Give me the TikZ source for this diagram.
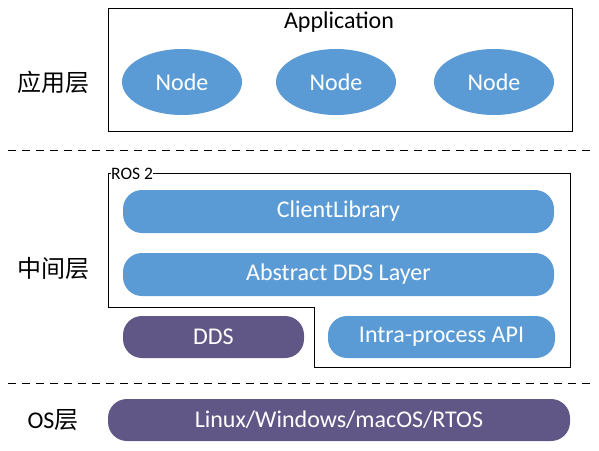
\documentclass[tikz,border=0pt]{standalone}
\usepackage{fontspec}
\setmainfont{Carlito}
\newfontfamily\cjk{Noto Sans CJK SC}
\usetikzlibrary{shapes.geometric}
\definecolor{lblue}{RGB}{91,155,213}
\definecolor{lpurple}{RGB}{97,87,135}
\tikzset{
  pill/.style={rounded corners=19pt, fill=#1, draw=none},
  wt/.style={text=white, font=\fontsize{24}{28}\selectfont},
  ell/.style={ellipse, fill=lblue, draw=none, text=white, minimum width=120pt, minimum height=66pt, font=\fontsize{24}{28}\selectfont},
  layer/.style={font=\fontsize{24}{28}\selectfont},
  sep/.style={dashed, dash pattern=on 8pt off 6pt, line width=0.9pt},
}
\begin{document}
\begin{tikzpicture}[x=1pt,y=-1pt]
\useasboundingbox (0,0) rectangle (599,450);
% application box
\draw[line width=0.9pt] (108,8) rectangle (572,131);
\node[font=\fontsize{24}{28}\selectfont] (app) at (339,22) {Application};
\node[ell] (n1) at (182,82) {Node};
\node[ell] (n2) at (336,82) {Node};
\node[ell] (n3) at (494,82) {Node};
% separators
\coordinate (s1a) at (8,150); \coordinate (s1b) at (592,150);
\draw[sep] (s1a) -- (s1b);
\coordinate (s2a) at (8,383); \coordinate (s2b) at (592,383);
\draw[sep] (s2a) -- (s2b);
% layer labels
\node[layer] (l1) at (53,82) {\cjk 应用层};
\node[layer] (l2) at (53,268) {\cjk 中间层};
\node[layer] (l3) at (53,420) {OS\cjk 层};
% ROS 2 frame
\node[anchor=west, inner sep=0pt, font=\fontsize{17.5}{20}\selectfont] (ros) at (111,174) {ROS 2};
\draw[line width=0.9pt] (ros.east |- 0,173) -- (570,173) -- (570,367) -- (314,367) -- (314,307) -- (108,307) -- (108,173) -- (ros.west |- 0,173);
% bars
\path[pill=lblue] (123,190) rectangle (554,233);
\node[wt] (cl) at (338.5,211.5) {ClientLibrary};
\path[pill=lblue] (123,253) rectangle (554,296);
\node[wt] (adl) at (338.5,274.5) {Abstract DDS Layer};
\path[pill=lpurple] (123,316) rectangle (304,358);
\node[wt] (dds) at (213.5,337) {DDS};
\path[pill=lblue] (328,316) rectangle (555,358);
\node[wt] (ipa) at (441.5,337) {Intra-process API};
\path[pill=lpurple] (108,399) rectangle (570,441);
\node[wt] (os) at (339,420) {Linux/Windows/macOS/RTOS};
\end{tikzpicture}
\end{document}
